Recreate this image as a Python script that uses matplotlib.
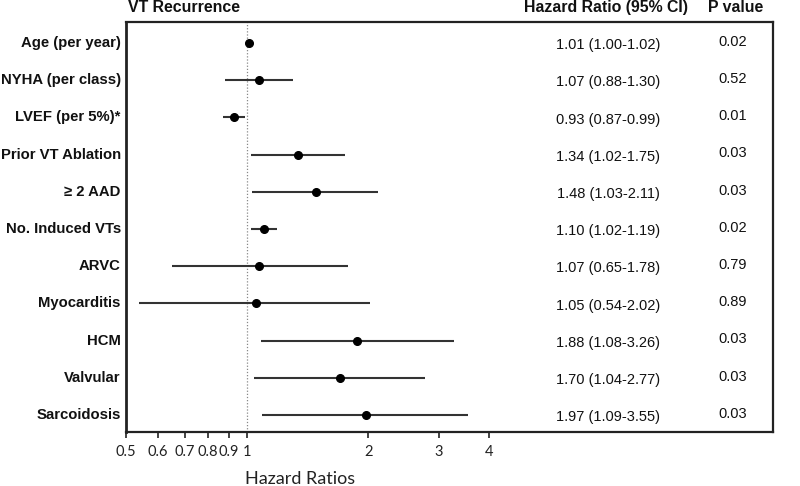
import matplotlib
matplotlib.use("Agg")
import matplotlib.pyplot as plt
from matplotlib.ticker import FixedLocator, NullLocator, FixedFormatter

labels = ["Age (per year)", "NYHA (per class)", "LVEF (per 5%)*", "Prior VT Ablation",
          "\u2265 2 AAD", "No. Induced VTs", "ARVC", "Myocarditis", "HCM", "Valvular",
          "Sarcoidosis"]
hr = [1.01, 1.07, 0.93, 1.34, 1.48, 1.10, 1.07, 1.05, 1.88, 1.70, 1.97]
lo = [1.00, 0.88, 0.87, 1.02, 1.03, 1.02, 0.65, 0.54, 1.08, 1.04, 1.09]
hi = [1.02, 1.30, 0.99, 1.75, 2.11, 1.19, 1.78, 2.02, 3.26, 2.77, 3.55]
pvals = ["0.02", "0.52", "0.01", "0.03", "0.03", "0.02", "0.79", "0.89", "0.03", "0.03", "0.03"]
tick_vals = [0.5, 0.6, 0.7, 0.8, 0.9, 1, 2, 3, 4]
tick_labels = ["0.5", "0.6", "0.7", "0.8", "0.9", "1", "2", "3", "4"]

W, H = 800, 486
fig = plt.figure(figsize=(8, 4.86), dpi=100)
ax = fig.add_axes([126 / W, 1 - 432 / H, (773 - 126) / W, (432 - 22) / H])
ax.set_xscale("log")
ax.set_xlim(0.5, 20.3)
ax.set_ylim(10.46, -0.565)

ax.axvline(1, color="#888888", lw=0.9, ls=(0, (1, 1.5)), zorder=1)

ys = list(range(len(labels)))
for y, l, h in zip(ys, lo, hi):
    ax.plot([l, h], [y, y], color="#333333", lw=1.5, solid_capstyle="butt", zorder=2)
ax.plot(hr, ys, "o", color="black", ms=5.5, zorder=3)

for y, lab, v, l, h, p in zip(ys, labels, hr, lo, hi, pvals):
    ax.text(-0.008, y, lab, transform=ax.get_yaxis_transform(), ha="right", va="center",
            fontsize=10.7, fontweight="bold", family="Liberation Sans", color="#111111")
    ax.text(0.745, y + 0.06, f"{v:.2f} ({l:.2f}-{h:.2f})", transform=ax.get_yaxis_transform(),
            ha="center", va="center", fontsize=10.5, family="Liberation Sans", color="#111111")
    ax.text(0.938, y - 0.03, p, transform=ax.get_yaxis_transform(), ha="center", va="center",
            fontsize=10.5, family="Liberation Sans", color="#111111")

ax.xaxis.set_major_locator(FixedLocator(tick_vals))
ax.xaxis.set_major_formatter(FixedFormatter(tick_labels))
ax.xaxis.set_minor_locator(NullLocator())
ax.yaxis.set_major_locator(NullLocator())
ax.tick_params(axis="x", direction="out", length=4, width=1.2, color="#222222", pad=5,
               labelsize=10.5, labelcolor="#222222")
for t in ax.get_xticklabels():
    t.set_family("Lato")

for side, sp in ax.spines.items():
    sp.set_color("#222222")
    sp.set_linewidth(1.6)
ax.spines["left"].set_linewidth(2.0)

fig.text(128 / W, 1 - 7.5 / H, "VT Recurrence", ha="left", va="center", fontsize=11.4,
         fontweight="bold", family="Liberation Sans", color="#111111")
fig.text(606 / W, 1 - 7.5 / H, "Hazard Ratio (95% CI)", ha="center", va="center", fontsize=11.4,
         fontweight="bold", family="Liberation Sans", color="#111111")
fig.text(736 / W, 1 - 7.5 / H, "P value", ha="center", va="center", fontsize=11.4,
         fontweight="bold", family="Liberation Sans", color="#111111")
fig.text(300 / W, 1 - 479 / H, "Hazard Ratios", ha="center", va="center", fontsize=13,
         family="Lato", color="#222222")

fig.savefig("out.png", dpi=100)
